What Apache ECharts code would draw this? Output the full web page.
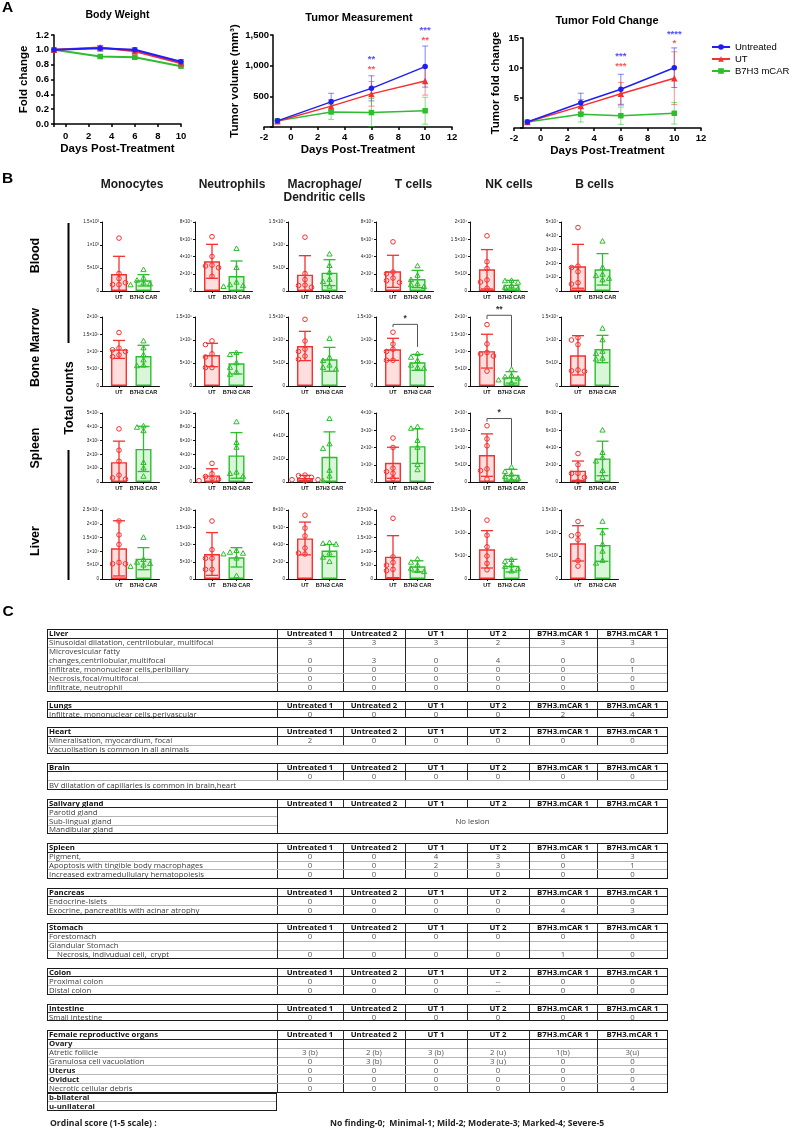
<!DOCTYPE html>
<html><head><meta charset="utf-8">
<script src="https://cdn.jsdelivr.net/npm/echarts@6.0.0/dist/echarts.min.js"></script>
<style>
html,body{margin:0;padding:0;background:#fff;}
#chart{position:absolute;left:0;top:0;width:792px;height:1132px;}
#tables{position:absolute;left:0;top:0;width:792px;height:1132px;font-family:'Open Sans',sans-serif;font-size:7.8px;color:#3c3c3c;pointer-events:none;}
#tables div{position:absolute;box-sizing:border-box;}
</style></head><body>
<div id="chart"></div><div id="tables"></div>
<script>
// ================= Panel A data =================
const days = [-1, 3, 6, 10];
const lineGroups = ['Untreated', 'UT', 'B7H3 mCAR'];
const bwUntreated = [1.00, 1.02, 1.00, 0.84];
const bwUntreatedSd = [0, 0.04, 0.03, 0.03];
const bwUT = [1.00, 1.03, 0.98, 0.82];
const bwUTSd = [0, 0.02, 0.02, 0.02];
const bwCAR = [1.00, 0.91, 0.90, 0.78];
const bwCARSd = [0, 0.01, 0.01, 0.01];
const volUntreated = [100, 410, 630, 985];
const volUntreatedSd = [0, 140, 205, 335];
const volUT = [95, 340, 540, 750];
const volUTSd = [0, 110, 200, 230];
const volCAR = [100, 245, 235, 265];
const volCARSd = [0, 120, 230, 220];
const foldUntreated = [1, 4.2, 6.45, 10.05];
const foldUntreatedSd = [0, 1.6, 2.5, 3.3];
const foldUT = [1, 3.65, 5.7, 8.3];
const foldUTSd = [0, 1.1, 1.9, 4.4];
const foldCAR = [1, 2.3, 2.05, 2.45];
const foldCARSd = [0, 1.3, 1.45, 1.8];
const sigDays = [6, 10];
const volSigUntreated = ['**', '***'];
const volSigUntreatedY = [1140, 1610];
const volSigUT = ['**', '**'];
const volSigUTY = [975, 1450];
const foldSigUntreated = ['***', '****'];
const foldSigUntreatedY = [12.3, 16.0];
const foldSigUT = ['***', '*'];
const foldSigUTY = [10.6, 14.5];

// ================= Panel B data =================
const cellTypes = ['Monocytes', 'Neutrophils', 'Macrophage/\nDendritic cells', 'T cells', 'NK cells', 'B cells'];
const tissues = ['Blood', 'Bone Marrow', 'Spleen', 'Liver'];
const barGroups = ['UT', 'B7H3 CAR'];
const yMax = [
  [1500, 80000, 15000, 80000, 20000, 50000],
  [200000, 150000, 15000, 150000, 20000, 15000],
  [500000, 100000, 6000, 400000, 20000, 80000],
  [25000, 200000, 80000, 250000, 150000, 15000]];
const yStep = [
  [500, 20000, 5000, 20000, 5000, 10000],
  [50000, 50000, 5000, 50000, 5000, 5000],
  [100000, 20000, 2000, 100000, 5000, 20000],
  [5000, 50000, 20000, 50000, 50000, 5000]];
const utMean = [
  [370, 34400, 3550, 22800, 6300, 17900],
  [106000, 67400, 8700, 79700, 10100, 6670],
  [144000, 9600, 346, 111500, 7800, 13100],
  [11100, 72500, 47000, 81000, 64500, 7750]];
const utSd = [
  [384, 19700, 4130, 18600, 5700, 15900],
  [26000, 25400, 3180, 24000, 4900, 4270],
  [152000, 9600, 230, 90000, 6150, 11200],
  [10000, 62000, 19000, 76000, 40600, 3840]];
const carMean = [
  [232, 17400, 3990, 13900, 1840, 15700],
  [87000, 49300, 5800, 51400, 2500, 8040],
  [240000, 38500, 2190, 207700, 2115, 27300],
  [7370, 62800, 33000, 46000, 29000, 7400]];
const carSd = [
  [123, 17400, 2820, 10000, 1250, 11400],
  [31000, 23200, 2600, 17400, 1650, 2970],
  [164000, 33100, 2170, 100000, 1540, 20000],
  [4000, 28000, 7000, 20000, 13800, 3550]];
const utPoints = [
  [[1150, 380, 270, 140, 140, 180], [63000, 40000, 30000, 29000, 27000, 17000], [11700, 3800, 2500, 1300, 1200, 800],
   [57000, 22000, 20000, 15000, 12000, 10000], [16000, 8500, 6500, 3200, 2600, 800], [46000, 18000, 17000, 14000, 6000, 5000]],
  [[155000, 110000, 105000, 100000, 90000, 85000], [98000, 90000, 70000, 63000, 40000, 40000], [14500, 9800, 8000, 7500, 6500, 5800],
   [117000, 91000, 80000, 75000, 56000, 56000], [17800, 12200, 9700, 9300, 8700, 4300], [10500, 10000, 9000, 3500, 3300, 3200]],
  [[385000, 230000, 150000, 50000, 30000, 20000], [27000, 12000, 8000, 5000, 4000, 2000], [600, 550, 400, 200, 200, 100],
   [255000, 200000, 80000, 60000, 50000, 20000], [16300, 12500, 10500, 3800, 3300, 800], [33000, 20000, 10000, 10000, 5500, 500]],
  [[21000, 16000, 12500, 6000, 5500, 5500], [168000, 85000, 60000, 60000, 28000, 28000], [74000, 59000, 50000, 36000, 29000, 30000],
   [220000, 80000, 60000, 50000, 35000, 30000], [128000, 95000, 70000, 50000, 34000, 20000], [12500, 9700, 9400, 8500, 4000, 2800]]];
const carPoints = [
  [[460, 280, 230, 170, 150, 130], [49000, 27000, 10000, 7000, 6000, 5000], [8000, 5500, 4000, 2500, 2000, 1000],
   [29000, 18000, 13000, 8000, 7000, 5000], [3000, 2900, 2500, 1500, 1000, 500], [36000, 17000, 12000, 11000, 9000, 8000]],
  [[130000, 110000, 90000, 75000, 60000, 58000], [72000, 68000, 50000, 40000, 30000, 25000], [10300, 6200, 5500, 4500, 4000, 3600],
   [70000, 62000, 55000, 45000, 40000, 38000], [4800, 3000, 2600, 2200, 1700, 900], [12500, 10000, 7500, 7000, 6000, 5800]],
  [[405000, 395000, 370000, 140000, 100000, 40000], [87000, 57000, 50000, 14000, 12000, 8000], [5500, 3300, 2900, 1000, 500, 100],
   [320000, 310000, 240000, 200000, 100000, 70000], [4300, 3000, 2200, 1500, 1000, 600], [60000, 34000, 28000, 24000, 13000, 5000]],
  [[15000, 7000, 6000, 5500, 5000, 4500], [82000, 77000, 74000, 72000, 60000, 9000], [42000, 41000, 40000, 30000, 25000, 20000],
   [72000, 60000, 50000, 38000, 30000, 26000], [42000, 38000, 30000, 27000, 22000, 17000], [12500, 10000, 7500, 6000, 4000, 3400]]];
const sigRow = [1, 1, 2];
const sigCol = [3, 4, 4];
const sigText = ['*', '**', '*'];
const sigLevel = [134000, 20500, 18400];
const sigLeftEnd = [128000, 19400, 17500];
const sigRightEnd = [85000, 5600, 5100];

// ================= Panel C data =================
const tableCols = ['Untreated 1', 'Untreated 2', 'UT 1', 'UT 2', 'B7H3.mCAR 1', 'B7H3.mCAR 1'];
const liverRows = [
  ['Sinusoidal dilatation, centrilobular, multifocal', '3', '3', '3', '2', '3', '3'],
  ['Microvesicular fatty\nchanges,centrilobular,multifocal', '0', '3', '0', '4', '0', '0'],
  ['Infiltrate, mononuclear cells,peribiliary', '0', '0', '0', '0', '0', '1'],
  ['Necrosis,focal/multifocal', '0', '0', '0', '0', '0', '0'],
  ['Infiltrate, neutrophil', '0', '0', '0', '0', '0', '0']];
const lungsRows = [['Infiltrate, mononuclear cells,perivascular', '0', '0', '0', '0', '2', '4']];
const heartRows = [['Mineralisation, myocardium, focal', '2', '0', '0', '0', '0', '0'], 'Vacuolisation is common in all animals'];
const brainRows = [['', '0', '0', '0', '0', '0', '0'], 'BV dilatation of capillaries is common in brain,heart'];
const salivaryLabels = ['Parotid gland', 'Sub-lingual gland', 'Mandibular gland'];
const salivaryNote = 'No lesion';
const spleenRows = [
  ['Pigment,', '0', '0', '4', '3', '0', '3'],
  ['Apoptosis with tingible body macrophages', '0', '0', '2', '3', '0', '1'],
  ['Increased extramedullulary hematopoiesis', '0', '0', '0', '0', '0', '0']];
const pancreasRows = [
  ['Endocrine-Islets', '0', '0', '0', '0', '0', '0'],
  ['Exocrine, pancreatitis with acinar atrophy', '0', '0', '0', '0', '4', '3']];
const stomachRows = [
  ['Forestomach', '0', '0', '0', '0', '0', '0'],
  ['Glandular Stomach', '', '', '', '', '', ''],
  ['    Necrosis, indivudual cell,  crypt', '0', '0', '0', '0', '1', '0']];
const colonRows = [
  ['Proximal colon', '0', '0', '0', '--', '0', '0'],
  ['Distal colon', '0', '0', '0', '--', '0', '0']];
const intestineRows = [['Small intestine', '0', '0', '0', '0', '0', '0']];
const femaleRows = [
  ['Ovary', '', '', '', '', '', ''],
  ['Atretic follicle', '3 (b)', '2 (b)', '3 (b)', '2 (u)', '1(b)', '3(u)'],
  ['Granulosa cell vacuolation', '0', '3 (b)', '0', '3 (u)', '0', '0'],
  ['Uterus', '0', '0', '0', '0', '0', '0'],
  ['Oviduct', '0', '0', '0', '0', '0', '0'],
  ['Necrotic cellular debris', '0', '0', '0', '0', '0', '4']];
const boldLabels = ['Ovary', 'Uterus', 'Oviduct'];
const femaleNotes = ['b-bilateral', 'u-unilateral'];
const footLeft = 'Ordinal score (1-5 scale) :';
const footRight = 'No finding-0;  Minimal-1; Mild-2; Moderate-3; Marked-4; Severe-5';

// ================= styles =================
const FONT = "'Liberation Sans', Arial, sans-serif";
const BLUE = '#1f1ff5', RED = '#f5302f', GREEN = '#2dbd2d';
const UT_FILL = 'rgba(255,90,90,0.2)', CAR_FILL = 'rgba(80,215,80,0.22)';
const lineCol = [BLUE, RED, GREEN];
const lineSym = ['circle', 'triangle', 'rect'];
const lineSymSize = [5.5, 6.5, 5.5];

const grids = [], xAxes = [], yAxes = [], series = [], gfx = [];

function errSeries(gi, xs, ys, sds, color, capW, opacity, clipZero, lw) {
  return {
    type: 'custom', xAxisIndex: gi, yAxisIndex: gi, clip: false, silent: true, z: 3,
    data: xs.map((x, i) => [x, ys[i], sds[i]]),
    renderItem: (params, api) => {
      const x = api.value(0), y = api.value(1), s = api.value(2);
      if (!s) return { type: 'group', children: [] };
      let lo = y - s, clipped = false;
      if (clipZero && lo < 0) { lo = 0; clipped = true; }
      const p0 = api.coord([x, y + s]), p1 = api.coord([x, lo]);
      const st = { stroke: color, lineWidth: lw || 1, opacity };
      const ch = [
        { type: 'line', shape: { x1: p0[0], y1: p0[1], x2: p1[0], y2: p1[1] }, style: st },
        { type: 'line', shape: { x1: p0[0] - capW / 2, y1: p0[1], x2: p0[0] + capW / 2, y2: p0[1] }, style: st }];
      if (!clipped) ch.push({ type: 'line', shape: { x1: p1[0] - capW / 2, y1: p1[1], x2: p1[0] + capW / 2, y2: p1[1] }, style: st });
      return { type: 'group', children: ch };
    }
  };
}

// ================= Panel A =================
const lineCharts = [
  { title: 'Body Weight', tx: 117.5, ty: 15, grid: { left: 54, top: 35, width: 127, height: 89 },
    xMin: -1, xMax: 10, xStep: null, yMax: 1.2, yStep: 0.2, yName: 'Fold change', yNameGap: 24, yOff: 0,
    xNameGap: 19, xLabMargin: 7, yLabMargin: 5, lw: 2,
    sets: [[bwUntreated, bwUntreatedSd], [bwUT, bwUTSd], [bwCAR, bwCARSd]],
    yFmt: v => v.toFixed(1), xFmt: v => (v >= 0 && Math.abs(v % 2) < 1e-9) ? String(v) : '' },
  { title: 'Tumor Measurement', tx: 359, ty: 18, grid: { left: 264, top: 35, width: 188, height: 92 },
    xMin: -2, xMax: 12, xStep: 2, yMax: 1500, yStep: 500, yName: 'Tumor volume (mm³)', yNameGap: 31, yOff: -9,
    xNameGap: 15, xLabMargin: 5.5, yLabMargin: 4, lw: 1.5,
    sets: [[volUntreated, volUntreatedSd], [volUT, volUTSd], [volCAR, volCARSd]],
    yFmt: v => v === 0 ? '' : v.toLocaleString('en-US'), xFmt: v => String(v),
    sig: [[volSigUntreated, volSigUntreatedY, BLUE], [volSigUT, volSigUTY, RED]] },
  { title: 'Tumor Fold Change', tx: 607, ty: 20.5, grid: { left: 514, top: 38, width: 187, height: 90 },
    xMin: -2, xMax: 12, xStep: 2, yMax: 15, yStep: 5, yName: 'Tumor fold change', yNameGap: 21, yOff: -9,
    xNameGap: 17, xLabMargin: 5.5, yLabMargin: 4, lw: 1.5,
    sets: [[foldUntreated, foldUntreatedSd], [foldUT, foldUTSd], [foldCAR, foldCARSd]],
    yFmt: v => v === 0 ? '' : String(v), xFmt: v => String(v),
    sig: [[foldSigUntreated, foldSigUntreatedY, BLUE], [foldSigUT, foldSigUTY, RED]] }];

lineCharts.forEach((cfg, gi) => {
  grids.push(Object.assign({ outerBoundsMode: 'none', containLabel: false }, cfg.grid));
  const xa = {
    gridIndex: gi, type: 'value', min: cfg.xMin, max: cfg.xMax,
    axisLine: { onZero: false, lineStyle: { color: '#000', width: 1.5 } },
    axisTick: { length: 3, lineStyle: { color: '#000', width: 1.5 } },
    axisLabel: { fontSize: 9.5, fontWeight: 'bold', fontFamily: FONT, color: '#000', margin: cfg.xLabMargin, formatter: cfg.xFmt },
    splitLine: { show: false },
    name: 'Days Post-Treatment', nameLocation: 'middle', nameGap: cfg.xNameGap,
    nameTextStyle: { fontSize: 11.5, fontWeight: 'bold', fontFamily: FONT, color: '#000' }
  };
  if (cfg.xStep) xa.interval = cfg.xStep; else xa.splitNumber = 5;
  xAxes.push(xa);
  yAxes.push({
    gridIndex: gi, type: 'value', min: 0, max: cfg.yMax, interval: cfg.yStep, offset: cfg.yOff,
    axisLine: { show: true, onZero: false, lineStyle: { color: '#000', width: 1.5 } },
    axisTick: { show: true, length: 3, lineStyle: { color: '#000', width: 1.5 } },
    axisLabel: { fontSize: 9.5, fontWeight: 'bold', fontFamily: FONT, color: '#000', margin: cfg.yLabMargin, formatter: cfg.yFmt },
    splitLine: { show: false },
    name: cfg.yName, nameLocation: 'middle', nameGap: cfg.yNameGap, nameRotate: 90,
    nameTextStyle: { fontSize: 11.5, fontWeight: 'bold', fontFamily: FONT, color: '#000' }
  });
  cfg.sets.forEach(([vals, sds], k) => {
    series.push({
      type: 'line', name: lineGroups[k], xAxisIndex: gi, yAxisIndex: gi,
      data: days.map((d, i) => [d, vals[i]]), symbol: lineSym[k], symbolSize: lineSymSize[k], showSymbol: true,
      lineStyle: { color: lineCol[k], width: cfg.lw }, itemStyle: { color: lineCol[k] }, z: 4 - k * 0.1, clip: false, silent: true
    });
    series.push(errSeries(gi, days, vals, sds, lineCol[k], 6, 0.55, false, 1));
  });
  (cfg.sig || []).forEach(([texts, ys, col]) => {
    series.push({
      type: 'scatter', xAxisIndex: gi, yAxisIndex: gi, symbolSize: 1, itemStyle: { color: 'rgba(0,0,0,0)' },
      silent: true, clip: false, z: 6,
      data: sigDays.map((d, i) => ({ value: [d, ys[i]], label: { formatter: texts[i] } })),
      label: { show: true, position: 'inside', color: col, fontSize: 9.5, fontWeight: 'bold', fontFamily: FONT, offset: [0, 2] }
    });
  });
  gfx.push({ type: 'text', x: cfg.tx, y: cfg.ty, z: 10,
    style: { text: cfg.title, fontSize: cfg.title === 'Body Weight' ? 10.5 : 11, fontWeight: 'bold', fontFamily: FONT, fill: '#000', align: 'center', verticalAlign: 'middle' } });
});

// ================= Panel B =================
const BX0 = [102, 195, 288, 376, 470, 561];
const BY0 = [222, 317, 413, 510];
const BW = 57.5, BH = 69;
const X_MIN = -0.694, X_MAX = 1.653;
const SUP = '⁰¹²³⁴⁵⁶⁷⁸⁹';
function sci(v) {
  v = Math.round(v);
  if (v === 0) return '0';
  const e = Math.floor(Math.log10(v) + 1e-9);
  const m = Math.round(v / Math.pow(10, e) * 100) / 100;
  return m + '×10' + String(e).split('').map(d => SUP[+d]).join('');
}
function swarm(vals, max, h) {
  const placed = [];
  return vals.map(v => {
    const py = v / max * h;
    for (const off of [0, -6.5, 6.5, -13, 13]) {
      if (placed.every(p => Math.hypot(p[0] - off, p[1] - py) >= 4.8)) { placed.push([off, py]); return off; }
    }
    placed.push([0, py]); return 0;
  });
}
function pointSeries(gi, cat, vals, max, color, shape) {
  const offs = swarm(vals, max, BH);
  return {
    type: 'custom', xAxisIndex: gi, yAxisIndex: gi, clip: false, silent: true, z: 5,
    data: vals.map((v, i) => [cat, v, offs[i]]),
    renderItem: (params, api) => {
      const p = api.coord([api.value(0), api.value(1)]);
      const x = p[0] + api.value(2), y = p[1];
      const st = { fill: 'rgba(255,255,255,0)', stroke: color, lineWidth: 1 };
      if (shape === 'circle') return { type: 'circle', shape: { cx: x, cy: y, r: 2.3 }, style: st };
      return { type: 'polygon', shape: { points: [[x, y - 2.8], [x - 2.6, y + 1.8], [x + 2.6, y + 1.8]] }, style: st };
    }
  };
}
tissues.forEach((tissue, r) => {
  cellTypes.forEach((cell, c) => {
    const gi = grids.length;
    grids.push({ left: BX0[c], top: BY0[r], width: BW, height: BH, outerBoundsMode: 'none', containLabel: false });
    xAxes.push({
      gridIndex: gi, type: 'value', min: X_MIN, max: X_MAX,
      axisLine: { onZero: false, lineStyle: { color: '#111', width: 1 } },
      axisTick: { show: true, length: 2, customValues: [0, 1], lineStyle: { color: '#111', width: 1 } },
      axisLabel: { customValues: [0, 1], formatter: v => barGroups[Math.round(v)] || '', fontSize: 5.5, fontWeight: 'bold',
        fontFamily: FONT, color: '#111', margin: 3.5 },
      splitLine: { show: false }
    });
    yAxes.push({
      gridIndex: gi, type: 'value', min: 0, max: yMax[r][c], interval: yStep[r][c],
      axisLine: { show: true, onZero: false, lineStyle: { color: '#111', width: 1 } },
      axisTick: { show: true, length: 2, lineStyle: { color: '#111', width: 1 } },
      axisLabel: { fontSize: 4.6, fontFamily: FONT, color: '#222', margin: 3, formatter: sci },
      splitLine: { show: false }
    });
    series.push({
      type: 'bar', name: tissue + ' ' + cell, xAxisIndex: gi, yAxisIndex: gi, barWidth: 16, z: 2, silent: true,
      data: [
        { value: [0, utMean[r][c]], itemStyle: { color: UT_FILL, borderColor: RED, borderWidth: 1.4 } },
        { value: [1, carMean[r][c]], itemStyle: { color: CAR_FILL, borderColor: GREEN, borderWidth: 1.4 } }]
    });
    series.push(errSeries(gi, [0], [utMean[r][c]], [utSd[r][c]], RED, 12, 1, true, 1.3));
    series.push(errSeries(gi, [1], [carMean[r][c]], [carSd[r][c]], GREEN, 12, 1, true, 1.3));
    series.push(pointSeries(gi, 0, utPoints[r][c], yMax[r][c], RED, 'circle'));
    series.push(pointSeries(gi, 1, carPoints[r][c], yMax[r][c], GREEN, 'triangle'));
  });
});
sigRow.forEach((r, k) => {
  const gi = 3 + r * 6 + sigCol[k];
  series.push({
    type: 'custom', xAxisIndex: gi, yAxisIndex: gi, clip: false, silent: true, z: 6,
    data: [[sigLevel[k], sigLeftEnd[k], sigRightEnd[k]]],
    renderItem: (params, api) => {
      const lv = api.value(0), le = api.value(1), re = api.value(2);
      const a = api.coord([0, le]), b = api.coord([0, lv]), cc = api.coord([1, lv]), d = api.coord([1, re]);
      return { type: 'group', children: [
        { type: 'polyline', shape: { points: [a, b, cc, d] }, style: { stroke: '#555', lineWidth: 1, fill: null } },
        { type: 'text', style: { text: sigText[k], x: (b[0] + cc[0]) / 2, y: b[1] - 1, align: 'center', verticalAlign: 'bottom',
          fontSize: 8.5, fontWeight: 'bold', fontFamily: FONT, fill: '#333' } }] };
    }
  });
});

// ================= labels / decorations =================
function gtext(x, y, text, fs, extra) {
  extra = extra || {};
  gfx.push({ type: 'text', x, y, rotation: extra.rot || 0, z: 10,
    style: { text, fontSize: fs, fontWeight: extra.w || 'bold', fontFamily: FONT, fill: extra.fill || '#000',
      align: 'center', verticalAlign: 'middle', lineHeight: extra.lh || fs * 1.15 } });
}
gtext(7.5, 8, 'A', 15.5);
gtext(7.5, 178.5, 'B', 15.5);
gtext(8, 612, 'C', 15.5);
const headerX = [132, 232, 324.5, 413.5, 509, 594.5];
cellTypes.forEach((t, c) => gtext(headerX[c], c === 2 ? 191.5 : 185, t, 12, { fill: '#1a1a1a', lh: 13 }));
const rowLabelY = [255.5, 347.5, 448, 541];
tissues.forEach((t, r) => gtext(35.5, rowLabelY[r], t, 12.5, { rot: Math.PI / 2 }));
gtext(70, 398, 'Total counts', 12.5, { rot: Math.PI / 2 });
gfx.push({ type: 'rect', shape: { x: 67.5, y: 223, width: 2, height: 120 }, style: { fill: '#000' }, z: 10 });
gfx.push({ type: 'rect', shape: { x: 67.5, y: 450, width: 2, height: 130 }, style: { fill: '#000' }, z: 10 });

const chart = echarts.init(document.getElementById('chart'), null, { renderer: 'canvas' });
chart.setOption({
  animation: false,
  backgroundColor: '#fff',
  grid: grids, xAxis: xAxes, yAxis: yAxes, series,
  graphic: { elements: gfx },
  legend: {
    data: lineGroups, orient: 'vertical', left: 706, top: 37, itemWidth: 18, itemHeight: 7, itemGap: 2,
    selectedMode: false, textStyle: { fontSize: 9.5, fontFamily: FONT, color: '#000' }
  }
});

// ================= Panel C (table) =================
const host = document.getElementById('tables');
const TX = 47, TW = 621, UNIT = 8.91, T0 = 629.4;
const colEdges = [0, 230, 296, 358, 420, 482, 550, 621];
function div(x, y, w, h, css, text) {
  const d = document.createElement('div');
  d.style.cssText = `left:${x}px;top:${y}px;width:${w}px;height:${h}px;${css || ''}`;
  if (text !== undefined) d.textContent = text;
  host.appendChild(d);
  return d;
}
function txt(x, y, w, h, text, css) {
  return div(x, y, w, h, `line-height:${UNIT}px;white-space:pre;overflow:visible;${css || ''}`, text);
}
function hline(y, color) { div(TX, y - 0.5, TW, 1, `background:${color}`); }
function vsegs(y0, y1, edges) { edges.forEach(e => div(TX + colEdges[e] - 0.5, y0, 1, y1 - y0, 'background:#2a2a2a')); }
const ALL = [1, 2, 3, 4, 5, 6];
function header(y, title) {
  txt(TX + 2, y, 226, UNIT, title, 'font-weight:bold;color:#111');
  tableCols.forEach((c, i) => txt(TX + colEdges[i + 1], y, colEdges[i + 2] - colEdges[i + 1], UNIT, c,
    'font-weight:bold;text-align:center;color:#111'));
  vsegs(y, y + UNIT, ALL);
  hline(y + UNIT, '#222');
  return y + UNIT;
}
function dataRow(y, row) {
  const n = row[0].indexOf('\n') >= 0 ? 2 : 1;
  const bold = boldLabels.indexOf(row[0]) >= 0;
  txt(TX + 2, y, 226, UNIT * n, row[0], bold ? 'font-weight:bold;color:#222' : '');
  row.slice(1).forEach((v, i) => txt(TX + colEdges[i + 1], y + (n - 1) * UNIT, colEdges[i + 2] - colEdges[i + 1], UNIT, v,
    'text-align:center;color:#555'));
  vsegs(y, y + n * UNIT, ALL);
  return y + n * UNIT;
}
function section(start, title, rows) {
  const top = T0 + start * UNIT;
  let y = header(top, title);
  rows.forEach((row, i) => {
    if (typeof row === 'string') { txt(TX + 2, y, TW - 4, UNIT, row); y += UNIT; }
    else y = dataRow(y, row);
    if (i < rows.length - 1) hline(y, '#b5b5b5');
  });
  div(TX, top, TW, y - top, 'border:1.2px solid #1b1b1b');
  return Math.round((y - T0) / UNIT) + 1;
}
let u = 0;
u = section(u, 'Liver', liverRows);
u = section(u, 'Lungs', lungsRows);
u = section(u, 'Heart', heartRows);
u = section(u, 'Brain', brainRows);
// Salivary gland (merged value block)
(function () {
  const top = T0 + u * UNIT;
  let y = header(top, 'Salivary gland');
  const y0 = y;
  salivaryLabels.forEach((l, i) => {
    txt(TX + 2, y, 226, UNIT, l);
    y += UNIT;
    if (i < salivaryLabels.length - 1) div(TX, y - 0.5, colEdges[1], 1, 'background:#b5b5b5');
  });
  vsegs(y0, y, [1]);
  txt(TX + colEdges[1], y0 + UNIT, TW - colEdges[1], UNIT, salivaryNote, 'text-align:center;color:#444');
  div(TX, top, TW, y - top, 'border:1.2px solid #1b1b1b');
  u = Math.round((y - T0) / UNIT) + 1;
})();
u = section(u, 'Spleen', spleenRows);
u = section(u, 'Pancreas', pancreasRows);
u = section(u, 'Stomach', stomachRows);
u = section(u, 'Colon', colonRows);
u = section(u, 'Intestine', intestineRows);
const femStart = u;
u = section(u, 'Female reproductive organs', femaleRows);
(function () {
  let y = T0 + (femStart + 1 + femaleRows.length) * UNIT;
  const top = y;
  femaleNotes.forEach((n, i) => {
    txt(TX + 2, y, 226, UNIT, n, 'font-weight:bold;color:#222');
    y += UNIT;
    if (i < femaleNotes.length - 1) div(TX, y - 0.5, colEdges[1], 1, 'background:#b5b5b5');
  });
  div(TX, top, colEdges[1], y - top, 'border:1.2px solid #1b1b1b');
})();
txt(50, 1117.5, 200, 10, footLeft, 'font-weight:bold;color:#222;font-size:8.6px;line-height:10px');
txt(330, 1117.5, 360, 10, footRight, 'font-weight:bold;color:#222;font-size:8.6px;line-height:10px');
</script></body></html>
